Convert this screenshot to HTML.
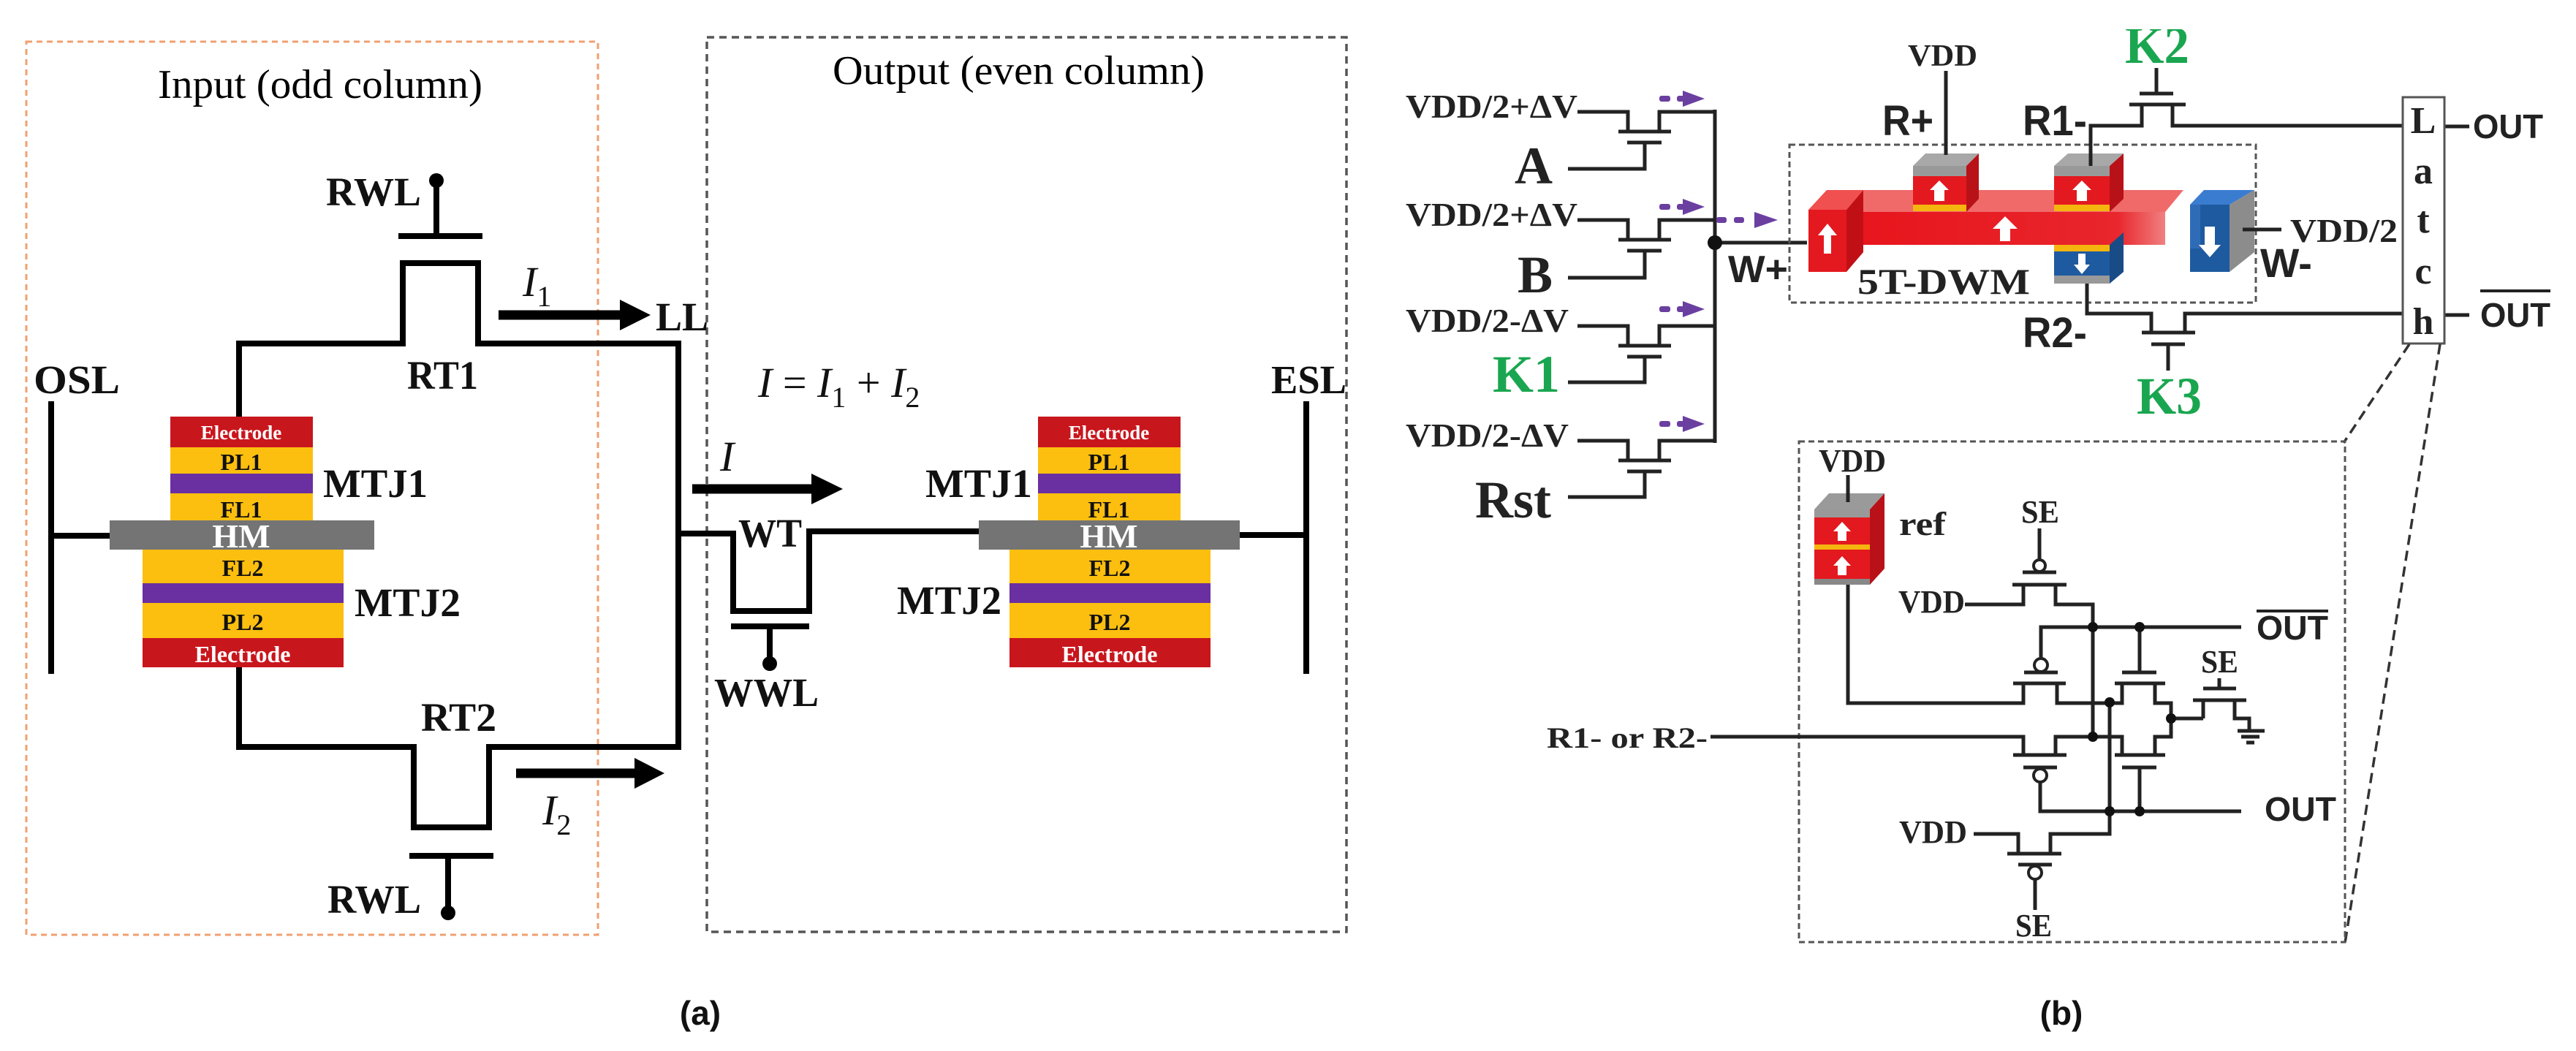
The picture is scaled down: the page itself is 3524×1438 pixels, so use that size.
<!DOCTYPE html>
<html><head><meta charset="utf-8"><style>
html,body{margin:0;padding:0;background:#fff;}
svg{display:block;}
.s{font-family:"Liberation Serif",serif;}
.sb{font-family:"Liberation Serif",serif;font-weight:bold;}
.ab{font-family:"Liberation Sans",sans-serif;font-weight:bold;}
</style></head><body>
<svg width="3524" height="1438" viewBox="0 0 3524 1438" xmlns="http://www.w3.org/2000/svg">
<rect width="3524" height="1438" fill="#fff"/>
<defs>
<marker id="ah" markerWidth="4" markerHeight="4" refX="0" refY="2" orient="auto" markerUnits="strokeWidth"><path d="M0,0 L3.2,2 L0,4 Z" fill="#000"/></marker>
</defs>

<!-- ================= PANEL (a) ================= -->
<rect x="36" y="57" width="782" height="1222" fill="none" stroke="#f0a070" stroke-width="3" stroke-dasharray="8,6"/>
<rect x="967" y="51" width="875" height="1224" fill="none" stroke="#555" stroke-width="3.5" stroke-dasharray="10,7"/>
<text class="s" x="216" y="134" font-size="56" textLength="444" lengthAdjust="spacingAndGlyphs">Input (odd column)</text>
<text class="s" x="1139" y="115" font-size="56" textLength="509" lengthAdjust="spacingAndGlyphs">Output (even column)</text>

<g stroke="#000" stroke-width="8" fill="none" stroke-linejoin="miter">
<!-- top branch -->
<polyline points="327,572 327,470 551,470 551,360 654,360 654,470 928,470 928,1022 669,1022 669,1132 566,1132 566,1022 327,1022 327,913"/>
<line x1="545" y1="323" x2="660" y2="323"/>
<line x1="597" y1="247" x2="597" y2="323"/>
<line x1="560" y1="1171" x2="675" y2="1171"/>
<line x1="613" y1="1171" x2="613" y2="1249"/>
<!-- OSL -->
<line x1="70" y1="549" x2="70" y2="922"/>
<line x1="70" y1="733" x2="150" y2="733"/>
<!-- WT -->
<polyline points="928,730 1003,730 1003,836 1107,836 1107,727 1340,727"/>
<line x1="1000" y1="857" x2="1107" y2="857"/>
<line x1="1053" y1="857" x2="1053" y2="908"/>
<!-- ESL -->
<line x1="1787" y1="549" x2="1787" y2="922"/>
<line x1="1696" y1="732" x2="1787" y2="732"/>
</g>
<circle cx="597" cy="247" r="10" fill="#000"/>
<circle cx="613" cy="1249" r="10" fill="#000"/>
<circle cx="1053" cy="908" r="10" fill="#000"/>

<!-- arrows -->
<g stroke="#000" stroke-width="13" fill="none">
<line x1="682" y1="431" x2="850" y2="431"/>
<line x1="706" y1="1058" x2="870" y2="1058"/>
<line x1="947" y1="669" x2="1112" y2="669"/>
</g>
<path d="M848,410 L890,431 L848,452 Z" fill="#000"/>
<path d="M868,1037 L909,1058 L868,1079 Z" fill="#000"/>
<path d="M1110,648 L1153,669 L1110,690 Z" fill="#000"/>

<!-- left MTJ -->
<rect x="233" y="570" width="195" height="42" fill="#c8161d"/>
<rect x="233" y="612" width="195" height="36" fill="#fdbf0f"/>
<rect x="233" y="648" width="195" height="27" fill="#6a2fa0"/>
<rect x="233" y="675" width="195" height="37" fill="#fdbf0f"/>
<rect x="150" y="712" width="362" height="40" fill="#747474"/>
<rect x="195" y="752" width="275" height="46" fill="#fdbf0f"/>
<rect x="195" y="798" width="275" height="27" fill="#6a2fa0"/>
<rect x="195" y="825" width="275" height="48" fill="#fdbf0f"/>
<rect x="195" y="873" width="275" height="40" fill="#c8161d"/>
<g class="sb" text-anchor="middle">
<text x="330" y="601" font-size="27" fill="#fff">Electrode</text>
<text x="330" y="643" font-size="32" fill="#111">PL1</text>
<text x="330" y="708" font-size="32" fill="#111">FL1</text>
<text x="330" y="749" font-size="46" fill="#fff">HM</text>
<text x="332" y="788" font-size="32" fill="#111">FL2</text>
<text x="332" y="862" font-size="32" fill="#111">PL2</text>
<text x="332" y="906" font-size="32" fill="#fff">Electrode</text>
</g>
<!-- right MTJ -->
<rect x="1420" y="570" width="195" height="42" fill="#c8161d"/>
<rect x="1420" y="612" width="195" height="36" fill="#fdbf0f"/>
<rect x="1420" y="648" width="195" height="27" fill="#6a2fa0"/>
<rect x="1420" y="675" width="195" height="37" fill="#fdbf0f"/>
<rect x="1339" y="712" width="357" height="40" fill="#747474"/>
<rect x="1381" y="752" width="275" height="46" fill="#fdbf0f"/>
<rect x="1381" y="798" width="275" height="27" fill="#6a2fa0"/>
<rect x="1381" y="825" width="275" height="48" fill="#fdbf0f"/>
<rect x="1381" y="873" width="275" height="40" fill="#c8161d"/>
<g class="sb" text-anchor="middle">
<text x="1517" y="601" font-size="27" fill="#fff">Electrode</text>
<text x="1517" y="643" font-size="32" fill="#111">PL1</text>
<text x="1517" y="708" font-size="32" fill="#111">FL1</text>
<text x="1517" y="749" font-size="46" fill="#fff">HM</text>
<text x="1518" y="788" font-size="32" fill="#111">FL2</text>
<text x="1518" y="862" font-size="32" fill="#111">PL2</text>
<text x="1518" y="906" font-size="32" fill="#fff">Electrode</text>
</g>

<g class="sb" font-size="55" fill="#111">
<text x="446" y="281" textLength="130" lengthAdjust="spacingAndGlyphs">RWL</text>
<text x="448" y="1249" textLength="128" lengthAdjust="spacingAndGlyphs">RWL</text>
<text x="557" y="532" textLength="97" lengthAdjust="spacingAndGlyphs">RT1</text>
<text x="576" y="1000" textLength="103" lengthAdjust="spacingAndGlyphs">RT2</text>
<text x="897" y="452" textLength="72" lengthAdjust="spacingAndGlyphs">LL</text>
<text x="46" y="538" textLength="118" lengthAdjust="spacingAndGlyphs">OSL</text>
<text x="1739" y="538" textLength="103" lengthAdjust="spacingAndGlyphs">ESL</text>
<text x="442" y="680" textLength="143" lengthAdjust="spacingAndGlyphs">MTJ1</text>
<text x="485" y="843" textLength="145" lengthAdjust="spacingAndGlyphs">MTJ2</text>
<text x="1266" y="680" textLength="146" lengthAdjust="spacingAndGlyphs">MTJ1</text>
<text x="1227" y="840" textLength="143" lengthAdjust="spacingAndGlyphs">MTJ2</text>
<text x="1010" y="748" textLength="87" lengthAdjust="spacingAndGlyphs">WT</text>
<text x="977" y="966" textLength="143" lengthAdjust="spacingAndGlyphs">WWL</text>
</g>
<g class="s" font-style="italic" fill="#111">
<text x="715" y="405" font-size="58">I<tspan font-size="40" font-style="normal" dy="14">1</tspan></text>
<text x="742" y="1128" font-size="58">I<tspan font-size="40" font-style="normal" dy="14">2</tspan></text>
<text x="985" y="644" font-size="58">I</text>
<text x="1037" y="543" font-size="58">I <tspan font-style="normal">=</tspan> I<tspan font-size="40" font-style="normal" dy="14">1</tspan><tspan dy="-14" font-style="normal"> + </tspan>I<tspan font-size="40" font-style="normal" dy="14">2</tspan></text>
</g>
<text class="ab" x="958" y="1402" font-size="46" text-anchor="middle" fill="#111">(a)</text>

<!-- ================= PANEL (b) ================= -->
<g stroke="#222" stroke-width="5" fill="none">
<!-- bus -->
<line x1="2346" y1="150" x2="2346" y2="606"/>
<line x1="2346" y1="332" x2="2472" y2="332"/>
</g>
<circle cx="2346" cy="332" r="10" fill="#111"/>

<!-- input transistors rows -->
<g stroke="#222" stroke-width="5" fill="none">
<polyline points="2158,153 2227,153 2227,180"/><line x1="2214" y1="180" x2="2286" y2="180"/><polyline points="2270,180 2270,153 2346,153"/><line x1="2226" y1="195" x2="2273" y2="195"/><polyline points="2250,195 2250,231 2145,231"/>
<polyline points="2158,301 2227,301 2227,328"/><line x1="2214" y1="328" x2="2286" y2="328"/><polyline points="2270,328 2270,301 2346,301"/><line x1="2226" y1="343" x2="2273" y2="343"/><polyline points="2250,343 2250,380 2145,380"/>
<polyline points="2158,446 2227,446 2227,473"/><line x1="2214" y1="473" x2="2286" y2="473"/><polyline points="2270,473 2270,446 2346,446"/><line x1="2226" y1="488" x2="2273" y2="488"/><polyline points="2250,488 2250,523 2145,523"/>
<polyline points="2158,603 2227,603 2227,630"/><line x1="2214" y1="630" x2="2286" y2="630"/><polyline points="2270,630 2270,603 2346,603"/><line x1="2226" y1="645" x2="2273" y2="645"/><polyline points="2250,645 2250,680 2145,680"/>
</g>
<g class="sb" fill="#222" font-size="45">
<text x="1923" y="161" textLength="235" lengthAdjust="spacingAndGlyphs">VDD/2+ΔV</text>
<text x="1923" y="309" textLength="235" lengthAdjust="spacingAndGlyphs">VDD/2+ΔV</text>
<text x="1923" y="454" textLength="223" lengthAdjust="spacingAndGlyphs">VDD/2-ΔV</text>
<text x="1923" y="611" textLength="223" lengthAdjust="spacingAndGlyphs">VDD/2-ΔV</text>
</g>
<g class="sb" font-size="72" text-anchor="end">
<text x="2124" y="251" fill="#222">A</text>
<text x="2124" y="400" fill="#222">B</text>
<text x="2134" y="536" fill="#1aa650">K1</text>
<text x="2122" y="708" fill="#222">Rst</text>
</g>
<!-- purple arrows -->
<g fill="#6b3fa0">
<rect x="2270" y="131" width="15" height="8" rx="3"/><rect x="2294" y="131" width="10" height="8" rx="3"/><path d="M2302,124 L2332,135 L2302,146 Z"/>
<rect x="2270" y="279" width="15" height="8" rx="3"/><rect x="2294" y="279" width="10" height="8" rx="3"/><path d="M2302,272 L2332,283 L2302,294 Z"/>
<rect x="2270" y="419" width="15" height="8" rx="3"/><rect x="2294" y="419" width="10" height="8" rx="3"/><path d="M2302,412 L2332,423 L2302,434 Z"/>
<rect x="2270" y="576" width="15" height="8" rx="3"/><rect x="2294" y="576" width="10" height="8" rx="3"/><path d="M2302,569 L2332,580 L2302,591 Z"/>
<rect x="2348" y="297" width="14" height="8" rx="3"/><rect x="2372" y="297" width="14" height="8" rx="3"/><path d="M2400,290 L2432,301 L2400,312 Z"/>
</g>
<text class="ab" x="2364" y="386" font-size="52" fill="#222" textLength="82" lengthAdjust="spacingAndGlyphs">W+</text>

<!-- DWM box -->
<rect x="2448" y="198" width="638" height="216" fill="none" stroke="#555" stroke-width="3" stroke-dasharray="8,5"/>
<!-- bar top face -->
<path d="M2524,290 L2549,260 L2987,260 L2962,290 Z" fill="#f06a6a"/>
<!-- R+ MTJ -->
<path d="M2617,227 L2634,210 L2707,210 L2690,227 Z" fill="#a8a8a8"/>
<path d="M2690,227 L2707,210 L2707,272 L2690,290 Z" fill="#b81218"/>
<rect x="2617" y="227" width="73" height="14" fill="#999"/>
<rect x="2617" y="241" width="73" height="40" fill="#e3191f"/>
<rect x="2617" y="280" width="73" height="9" fill="#f5b50f"/>
<path d="M2646,275 L2646,260 L2640,260 L2653,247 L2666,260 L2660,260 L2660,275 Z" fill="#fff"/>
<!-- R1- MTJ -->
<path d="M2810,227 L2829,210 L2905,210 L2886,227 Z" fill="#a8a8a8"/>
<path d="M2886,227 L2905,210 L2905,272 L2886,290 Z" fill="#b81218"/>
<rect x="2810" y="227" width="76" height="14" fill="#999"/>
<rect x="2810" y="241" width="76" height="40" fill="#e3191f"/>
<rect x="2810" y="280" width="76" height="9" fill="#f5b50f"/>
<path d="M2841,275 L2841,260 L2835,260 L2848,247 L2861,260 L2855,260 L2855,275 Z" fill="#fff"/>
<!-- bar front -->
<defs><linearGradient id="bg" x1="0" x2="1"><stop offset="0" stop-color="#e8141c"/><stop offset="0.85" stop-color="#e8262c"/><stop offset="1" stop-color="#f08080"/></linearGradient></defs>
<rect x="2524" y="290" width="438" height="45" fill="url(#bg)"/>
<path d="M2736,330 L2736,313 L2726,313 L2743,296 L2760,313 L2750,313 L2750,330 Z" fill="#fff"/>
<!-- left block -->
<path d="M2474,287 L2499,260 L2549,260 L2526,287 Z" fill="#f05050"/>
<path d="M2526,287 L2549,260 L2549,345 L2526,372 Z" fill="#c01016"/>
<rect x="2474" y="287" width="52" height="85" fill="#e3191f"/>
<path d="M2495,347 L2495,322 L2487,322 L2500,306 L2513,322 L2505,322 L2505,347 Z" fill="#fff"/>
<!-- R2- MTJ -->
<rect x="2810" y="335" width="76" height="9" fill="#f5b50f"/>
<rect x="2810" y="344" width="76" height="33" fill="#1e5aa0"/>
<rect x="2810" y="377" width="76" height="11" fill="#999"/>
<path d="M2886,335 L2905,318 L2905,372 L2886,388 Z" fill="#194b86"/>
<path d="M2843,347 L2843,362 L2837,362 L2848,375 L2859,362 L2853,362 L2853,347 Z" fill="#fff"/>
<!-- right blue block -->
<path d="M2996,280 L3015,260 L3084,260 L3050,280 Z" fill="#3a7cd0"/>
<path d="M3050,280 L3084,260 L3084,345 L3050,372 Z" fill="#8c8c8c"/>
<rect x="2996" y="280" width="54" height="92" fill="#1e5aa0"/>
<rect x="2996" y="280" width="14" height="60" fill="#2f6cb8"/>
<path d="M3016,310 L3016,335 L3008,335 L3023,352 L3038,335 L3030,335 L3030,310 Z" fill="#fff"/>
<text class="sb" x="2541" y="402" font-size="50" fill="#222" textLength="236" lengthAdjust="spacingAndGlyphs">5T-DWM</text>

<!-- DWM wires -->
<g stroke="#222" stroke-width="5" fill="none">
<line x1="2662" y1="97" x2="2662" y2="212"/>
<polyline points="2860,227 2860,172 2930,172 2930,143"/>
<line x1="2913" y1="143" x2="2990" y2="143"/>
<polyline points="2972,143 2972,172 3287,172"/>
<line x1="2927" y1="128" x2="2973" y2="128"/>
<line x1="2950" y1="128" x2="2950" y2="93"/>
<polyline points="2855,388 2855,429 2943,429 2943,455"/>
<line x1="2930" y1="455" x2="3003" y2="455"/>
<polyline points="2989,455 2989,429 3287,429"/>
<line x1="2943" y1="471" x2="2989" y2="471"/>
<line x1="2966" y1="471" x2="2966" y2="507"/>
<line x1="3068" y1="314" x2="3121" y2="314"/>
<line x1="3344" y1="173" x2="3378" y2="173"/>
<line x1="3344" y1="431" x2="3378" y2="431"/>
</g>
<text class="sb" x="2610" y="90" font-size="42" fill="#222" textLength="95" lengthAdjust="spacingAndGlyphs">VDD</text>
<text class="ab" x="2575" y="185" font-size="58" fill="#222" textLength="70" lengthAdjust="spacingAndGlyphs">R+</text>
<text class="ab" x="2767" y="185" font-size="58" fill="#222" textLength="88" lengthAdjust="spacingAndGlyphs">R1-</text>
<text class="ab" x="2767" y="475" font-size="58" fill="#222" textLength="88" lengthAdjust="spacingAndGlyphs">R2-</text>
<text class="sb" x="2907" y="86" font-size="72" fill="#1aa650" textLength="88" lengthAdjust="spacingAndGlyphs">K2</text>
<rect x="2890" y="0" width="120" height="40" fill="#fff"/>
<text class="sb" x="2923" y="566" font-size="72" fill="#1aa650" textLength="89" lengthAdjust="spacingAndGlyphs">K3</text>
<text class="sb" x="3133" y="331" font-size="46" fill="#222" textLength="147" lengthAdjust="spacingAndGlyphs">VDD/2</text>
<text class="ab" x="3092" y="379" font-size="56" fill="#222" textLength="71" lengthAdjust="spacingAndGlyphs">W-</text>

<!-- Latch -->
<rect x="3287" y="133" width="57" height="337" fill="#fff" stroke="#555" stroke-width="3"/>
<g class="sb" font-size="52" fill="#222" text-anchor="middle">
<text x="3315" y="182">L</text><text x="3315" y="251">a</text><text x="3315" y="318">t</text><text x="3315" y="388">c</text><text x="3315" y="457">h</text>
</g>
<text class="ab" x="3383" y="189" font-size="46" fill="#222" textLength="96" lengthAdjust="spacingAndGlyphs">OUT</text>
<text class="ab" x="3393" y="447" font-size="46" fill="#222" textLength="96" lengthAdjust="spacingAndGlyphs">OUT</text>
<line x1="3393" y1="398" x2="3489" y2="398" stroke="#222" stroke-width="4"/>
<g stroke="#333" stroke-width="3.5" stroke-dasharray="14,8">
<line x1="3296" y1="471" x2="3206" y2="606"/>
<line x1="3338" y1="471" x2="3208" y2="1290"/>
</g>

<!-- Latch detail box -->
<rect x="2461" y="604" width="747" height="685" fill="none" stroke="#555" stroke-width="3" stroke-dasharray="8,5"/>
<text class="sb" x="2488" y="645" font-size="44" fill="#222" textLength="92" lengthAdjust="spacingAndGlyphs">VDD</text>
<!-- ref MTJ -->
<path d="M2482,697 L2502,675 L2578,675 L2558,697 Z" fill="#9a9a9a"/>
<path d="M2558,697 L2578,675 L2578,778 L2558,800 Z" fill="#b81218"/>
<rect x="2482" y="697" width="76" height="11" fill="#999"/>
<rect x="2482" y="708" width="76" height="37" fill="#e3191f"/>
<rect x="2482" y="745" width="76" height="7" fill="#f5b50f"/>
<rect x="2482" y="752" width="76" height="40" fill="#e3191f"/>
<rect x="2482" y="792" width="76" height="8" fill="#888"/>
<path d="M2514,740 L2514,727 L2508,727 L2520,714 L2532,727 L2526,727 L2526,740 Z" fill="#fff"/>
<path d="M2514,787 L2514,774 L2508,774 L2520,761 L2532,774 L2526,774 L2526,787 Z" fill="#fff"/>
<text class="sb" x="2598" y="732" font-size="46" fill="#222" textLength="64" lengthAdjust="spacingAndGlyphs">ref</text>

<g stroke="#222" stroke-width="5" fill="none">
<line x1="2528" y1="650" x2="2528" y2="687"/>
<polyline points="2528,800 2528,962 2768,962 2768,935"/>
<!-- top PMOS -->
<line x1="2790" y1="723" x2="2790" y2="765"/>
<line x1="2767" y1="783" x2="2813" y2="783"/>
<line x1="2753" y1="800" x2="2827" y2="800"/>
<polyline points="2688,827 2768,827 2768,800"/>
<polyline points="2812,800 2812,827 2863,827 2863,1008"/>
<!-- OUTbar node -->
<polyline points="2792,900 2792,858 3066,858"/>
<!-- mid-left PMOS -->
<line x1="2769" y1="920" x2="2815" y2="920"/>
<line x1="2754" y1="935" x2="2826" y2="935"/>
<polyline points="2814,935 2814,962 2903,962 2903,935"/>
<!-- mid-right NMOS -->
<line x1="2927" y1="858" x2="2927" y2="920"/>
<line x1="2903" y1="920" x2="2950" y2="920"/>
<line x1="2893" y1="935" x2="2962" y2="935"/>
<polyline points="2948,935 2948,962 2970,962 2970,1008 2948,1008 2948,1033"/>
<line x1="2970" y1="983" x2="3014" y2="983"/>
<!-- SE nmos -->
<polyline points="3014,983 3014,958"/>
<line x1="3000" y1="958" x2="3073" y2="958"/>
<line x1="3014" y1="942" x2="3059" y2="942"/>
<line x1="3036" y1="942" x2="3036" y2="928"/>
<polyline points="3057,958 3057,983 3077,983 3077,1000"/>
<line x1="3061" y1="1000" x2="3098" y2="1000"/>
<line x1="3066" y1="1008" x2="3091" y2="1008"/>
<line x1="3073" y1="1016" x2="3084" y2="1016"/>
<!-- R1- or R2- line -->
<polyline points="2340,1008 2768,1008 2768,1033"/>
<polyline points="2812,1033 2812,1008 2903,1008 2903,1033"/>
<!-- lower-left PMOS -->
<line x1="2754" y1="1033" x2="2827" y2="1033"/>
<line x1="2768" y1="1050" x2="2814" y2="1050"/>
<polyline points="2791,1070 2791,1110 3066,1110"/>
<!-- lower-right NMOS -->
<line x1="2893" y1="1033" x2="2962" y2="1033"/>
<line x1="2903" y1="1050" x2="2950" y2="1050"/>
<line x1="2927" y1="1050" x2="2927" y2="1110"/>
<!-- vertical 2886 -->
<polyline points="2886,961 2886,1141 2805,1141 2805,1168"/>
<line x1="2746" y1="1168" x2="2820" y2="1168"/>
<polyline points="2700,1141 2761,1141 2761,1168"/>
<line x1="2761" y1="1183" x2="2807" y2="1183"/>
<line x1="2784" y1="1203" x2="2784" y2="1245"/>
</g>
<g fill="#fff" stroke="#222" stroke-width="4">
<circle cx="2790" cy="774" r="8"/>
<circle cx="2792" cy="910" r="9"/>
<circle cx="2791" cy="1061" r="9"/>
<circle cx="2784" cy="1194" r="9"/>
</g>
<g fill="#111">
<circle cx="2863" cy="858" r="7"/><circle cx="2927" cy="858" r="7"/>
<circle cx="2886" cy="961" r="7"/><circle cx="2970" cy="983" r="7"/>
<circle cx="2863" cy="1008" r="7"/>
<circle cx="2886" cy="1110" r="7"/><circle cx="2927" cy="1110" r="7"/>
</g>
<g class="sb" fill="#222" font-size="44">
<text x="2765" y="715" textLength="52" lengthAdjust="spacingAndGlyphs">SE</text>
<text x="2597" y="838" textLength="91" lengthAdjust="spacingAndGlyphs">VDD</text>
<text x="3011" y="920" textLength="51" lengthAdjust="spacingAndGlyphs">SE</text>
<text x="2598" y="1153" textLength="93" lengthAdjust="spacingAndGlyphs">VDD</text>
<text x="2757" y="1281" textLength="50" lengthAdjust="spacingAndGlyphs">SE</text>
<text x="2116" y="1023" font-size="40" textLength="220" lengthAdjust="spacingAndGlyphs">R1- or R2-</text>
</g>
<text class="ab" x="3087" y="875" font-size="46" fill="#222" textLength="98" lengthAdjust="spacingAndGlyphs">OUT</text>
<line x1="3087" y1="836" x2="3185" y2="836" stroke="#222" stroke-width="4"/>
<text class="ab" x="3098" y="1123" font-size="46" fill="#222" textLength="98" lengthAdjust="spacingAndGlyphs">OUT</text>

<text class="ab" x="2820" y="1402" font-size="46" text-anchor="middle" fill="#111">(b)</text>
</svg>
</body></html>
